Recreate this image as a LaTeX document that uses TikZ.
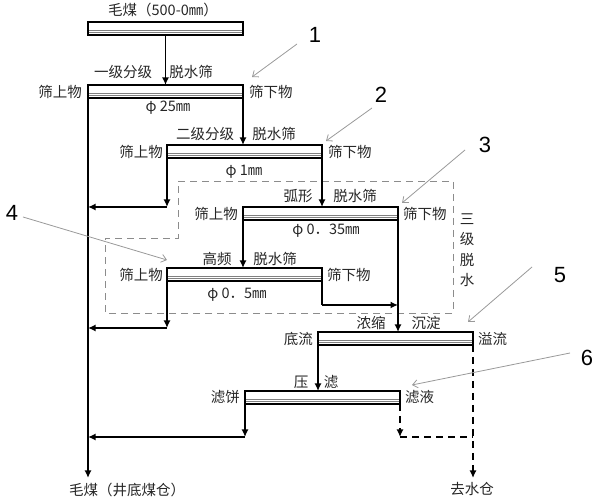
\documentclass[tikz,border=0pt]{standalone}
\usepackage{fontspec}
\newfontfamily\cjk{Noto Sans CJK SC}
\newfontfamily\numfont{Liberation Sans}
\usetikzlibrary{arrows.meta, positioning}

\begin{document}
\begin{tikzpicture}[
    x=1pt, y=-1pt,
    screen/.style={rectangle, draw, line width=1.4pt, outer sep=0pt, inner sep=0pt, minimum width=155pt, minimum height=13pt,
        path picture={
            \draw[gray, line width=0.8pt] ([yshift=5pt]path picture bounding box.south west) -- ([yshift=5pt]path picture bounding box.south east);
            \draw[gray, line width=0.8pt] ([yshift=2.2pt]path picture bounding box.south west) -- ([yshift=2.2pt]path picture bounding box.south east);
        }},
    lbl/.style={font=\cjk\fontsize{14.5}{16}\selectfont, text=black!85, inner sep=0pt},
    num/.style={font=\numfont\fontsize{22}{24}\selectfont, inner sep=0pt},
    pipe/.style={line width=1.5pt},
    flow/.style={pipe, -{Latex[length=7.5pt,width=7pt]}},
    wet/.style={pipe, dash pattern=on 7pt off 5pt},
    callout/.style={draw=black!40, line width=0.8pt, -{Straight Barb[length=5pt,width=8pt]}},
    zone/.style={draw=black!45, line width=0.9pt, dash pattern=on 7pt off 5pt}
]
\useasboundingbox (0,0) rectangle (600,502);

% screens
\node[screen] (feed) at (165.5,28.5) {};
\node[screen] (s1) at (165.5,91.5) {};
\node[screen] (s2) at (244.5,151.5) {};
\node[screen] (s3) at (320.5,213.5) {};
\node[screen] (s4) at (244.5,274.5) {};
\node[screen] (s5) at (395.5,338.5) {};
\node[screen] (s6) at (322.5,397.5) {};

% names above the screens
\node[lbl] (feedlbl) at (163,10) {毛煤（500-0㎜）};
\node[lbl] (t1a) at (123,72) {一级分级};
\node[lbl] (t1b) at (191,72) {脱水筛};
\node[lbl] (t2a) at (205,134) {二级分级};
\node[lbl] (t2b) at (274,134) {脱水筛};
\node[lbl] (t3a) at (298,196) {弧形};
\node[lbl] (t3b) at (355,196) {脱水筛};
\node[lbl] (t4a) at (217,259) {高频};
\node[lbl] (t4b) at (275,259) {脱水筛};
\node[lbl] (t5a) at (371,323) {浓缩};
\node[lbl] (t5b) at (426,323) {沉淀};
\node[lbl] (t6a) at (301,382) {压};
\node[lbl] (t6b) at (331,382) {滤};

% over / under
\node[lbl, left=6pt of s1] (o1) {筛上物};
\node[lbl, right=6pt of s1] (u1) {筛下物};
\node[lbl, left=4pt of s2] (o2) {筛上物};
\node[lbl, right=6pt of s2] (u2) {筛下物};
\node[lbl, left=5pt of s3] (o3) {筛上物};
\node[lbl, right=5pt of s3] (u3) {筛下物};
\node[lbl, left=4pt of s4] (o4) {筛上物};
\node[lbl, right=5pt of s4] (u4) {筛下物};
\node[lbl, left=5pt of s5] (o5) {底流};
\node[lbl, right=5pt of s5] (u5) {溢流};
\node[lbl, left=5pt of s6] (o6) {滤饼};
\node[lbl, right=5pt of s6] (u6) {滤液};

% mesh sizes
\node[lbl] (m1) at (168,108) {φ 25㎜};
\node[lbl] (m2) at (244,172) {φ 1㎜};
\node[lbl] (m3) at (326,231) {φ 0．35㎜};
\node[lbl] (m4) at (237,295) {φ 0．5㎜};

\node[lbl] (coal) at (127,490) {毛煤（井底煤仓）};
\node[lbl] (water) at (472,489) {去水仓};
\node[lbl, align=center, font=\cjk\fontsize{14.5}{20.5}\selectfont] (zonelbl) at (467,250) {三\\级\\脱\\水};

% dashed zone
\draw[zone] (178,181) -- (453,181) -- (453,313) -- (105,313) -- (105,238) -- (178,238) -- cycle;

\coordinate (coalend) at (88,478);
\coordinate (waterend) at (473,478);
\coordinate (j2) at (s2.south west |- s3.north);
\coordinate (j4) at (167,328);
\coordinate (j6) at (245,437);
\coordinate (j4r) at (322,305);
\coordinate (j6r) at (400,437);

% flows
\draw[flow] (feed.south) -- (feed.south |- s1.north);
\draw[flow] (s1.south west) -- (coalend);
\draw[flow] (s1.south east) -- (s1.south east |- s2.north);
\draw[flow] (s2.south west) -- (j2);
\draw[flow] (j2) -- (j2 -| s1.west);
\draw[flow] (s2.south east) -- (s2.south east |- s3.north);
\draw[flow] (s3.south west) -- (s3.south west |- s4.north);
\draw[flow] (s4.south west) -- (j4);
\draw[flow] (j4) -- (j4 -| s1.west);
\draw[pipe] (s4.south east) -- (j4r);
\draw[flow] (j4r) -- (j4r -| s3.east);
\draw[flow] (s3.south east) -- (s3.south east |- s5.north);
\draw[flow] (s5.south west) -- (s5.south west |- s6.north);
\draw[flow] (s6.south west) -- (j6);
\draw[flow] (j6) -- (j6 -| s1.west);
\draw[wet, -{Latex[length=7.5pt,width=7pt]}] (s6.south east) -- (j6r);
\draw[wet] (j6r) -- (j6r -| s5.east);
\draw[wet, -{Latex[length=7.5pt,width=7pt]}] (s5.south east) -- (waterend);

% callouts
\node[num] (n1) at (315,35) {1};
\node[num] (n2) at (381,95) {2};
\node[num] (n3) at (485,145) {3};
\node[num] (n4) at (12,213) {4};
\node[num] (n5) at (560,275) {5};
\node[num] (n6) at (587,358) {6};
\draw[callout] (n1) ++(-18,9) -- (252,77);
\draw[callout] (n2) ++(-9,13) -- (326,141);
\draw[callout] (n3) ++(-20,5) -- (402,203);
\draw[callout] (n4) ++(11,4) -- (167,260);
\draw[callout] (n5) ++(-28,-8) -- (468,322);
\draw[callout] (n6) ++(-17,-5) -- (412,385);
\end{tikzpicture}
\end{document}
